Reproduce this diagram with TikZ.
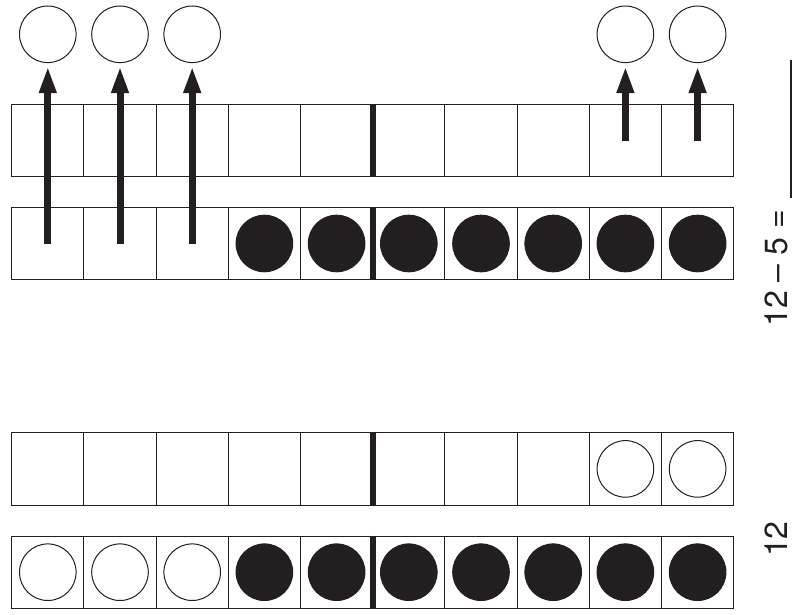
\documentclass[tikz,border=0pt]{standalone}
\usepackage{fontspec}
\setmainfont{TeX Gyre Heros}
\usetikzlibrary{arrows.meta}
\usetikzlibrary{scopes}

\definecolor{ink}{HTML}{231F20}

\begin{document}
\begin{tikzpicture}[x=1pt,y=-1pt,
		cellbox/.style={draw=ink, line width=1pt, minimum size=72.2pt, inner sep=0pt},
		counter/.style={circle, draw=ink, line width=1pt, minimum size=56.6pt, inner sep=0pt},
		fullcounter/.style={counter, fill=ink},
		moveup/.style={ink, line width=7pt, -{Triangle[width=16pt,length=27pt]}, shorten >=3pt},
		divider/.style={ink, line width=6pt},
		numtext/.style={font=\fontsize{32}{36}\selectfont, text=ink, inner sep=0pt, rotate=90}]
		\useasboundingbox (0,0) rectangle (792,615);
		% four ten-frames
		\foreach \i in {1,...,10} {
			\node[cellbox] (a\i) at (72.2*\i-24.4,140.5) {};
			\node[cellbox] (b\i) at (72.2*\i-24.4,243.5) {};
			\node[cellbox] (c\i) at (72.2*\i-24.4,468.9) {};
			\node[cellbox] (d\i) at (72.2*\i-24.4,572.2) {};
		}
		\begin{scope}[divider]
			\draw (a5.north east) -- (a5.south east);
			\draw (b5.north east) -- (b5.south east);
			\draw (c5.north east) -- (c5.south east);
			\draw (d5.north east) -- (d5.south east);
		\end{scope}
		% counters
		\foreach \i in {4,...,10} {
			\node[fullcounter] (bc\i) at (b\i) {};
			\node[fullcounter] (dc\i) at (d\i) {};
		}
		\foreach \i in {1,2,3}
			\node[counter] (dc\i) at (d\i) {};
		\foreach \i in {9,10}
			\node[counter] (cc\i) at (c\i) {};
		% taken away
		\foreach \i in {1,2,3} {
			\node[counter] (t\i) at (72.2*\i-24.4,34.3) {};
			\draw[moveup] (b\i.center) -- (t\i);
		}
		\foreach \i in {9,10} {
			\node[counter] (t\i) at (72.2*\i-24.4,34.3) {};
			\draw[moveup] (a\i.center) -- (t\i);
		}
		% number sentences
		\node[numtext, anchor=base east] (diff) at (787,210) {12 – 5 =};
		\coordinate (blank top) at (790.5,60);
		\coordinate (blank end) at (790.5,198);
		\draw[ink, line width=2pt] (blank top) -- (blank end);
		\node[numtext, anchor=base] (whole) at (787,539) {12};
	\end{tikzpicture}
\end{document}
